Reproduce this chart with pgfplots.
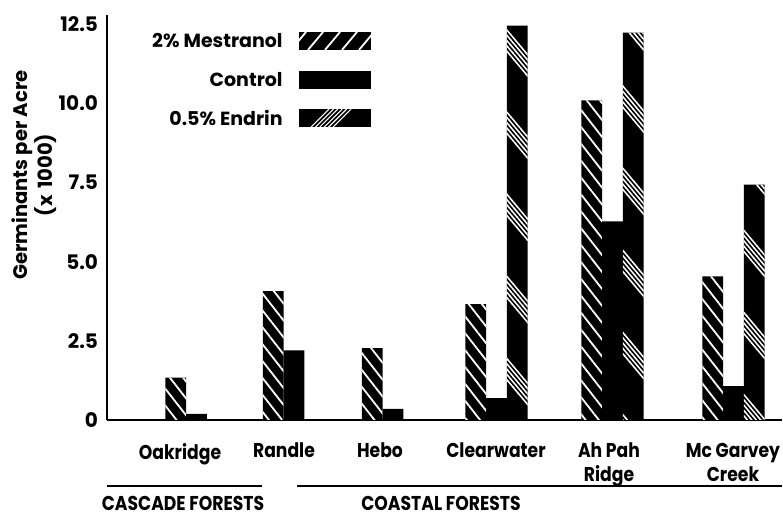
\documentclass[border=0pt]{standalone}
\usepackage{fontspec}
\setmainfont{Poppins}
\newfontfamily\cond{Poppins}[FakeStretch=0.86]
\usepackage{pgfplots}
\pgfplotsset{compat=1.18}
\usetikzlibrary{patterns.meta}

\tikzdeclarepattern{
  name=BandsR,
  bounding box={(-0.2pt,-0.5pt) and (4.2pt,7.4pt)},
  tile size={(4pt,26.4pt)},
  tile transformation={rotate=-50},
  code={
    \pgfsetlinewidth{0.75pt}
    \pgfpathmoveto{\pgfqpoint{-0.2pt}{0pt}}\pgfpathlineto{\pgfqpoint{4.2pt}{0pt}}
    \pgfpathmoveto{\pgfqpoint{-0.2pt}{1.7pt}}\pgfpathlineto{\pgfqpoint{4.2pt}{1.7pt}}
    \pgfpathmoveto{\pgfqpoint{-0.2pt}{3.4pt}}\pgfpathlineto{\pgfqpoint{4.2pt}{3.4pt}}
    \pgfpathmoveto{\pgfqpoint{-0.2pt}{5.1pt}}\pgfpathlineto{\pgfqpoint{4.2pt}{5.1pt}}
    \pgfpathmoveto{\pgfqpoint{-0.2pt}{6.8pt}}\pgfpathlineto{\pgfqpoint{4.2pt}{6.8pt}}
    \pgfusepath{stroke}
  }
}

\pgfplotstableread{
x     mes   con
196.5 1.34  0.19
294   4.07  2.20
393   2.27  0.35
496.5 3.66  0.69
612.5 10.10 6.28
733.5 4.54  1.07
}\mainTable
\pgfplotstableread{
x     end
496.5 12.46
612.5 12.24
733.5 7.44
}\endTable

\begin{document}
\begin{tikzpicture}
\begin{axis}[
  scale only axis,
  width=337.5pt, height=202.5pt,
  xmin=107, xmax=782,
  ymin=0, ymax=12.8,
  axis x line=bottom, axis y line=left,
  axis line style={-, line width=1.1pt},
  major tick length=0pt,
  ybar, bar width=20.7,
  clip=false,
  ytick={0,2.5,5,7.5,10,12.5},
  yticklabels={0,2.5,5.0,7.5,10.0,12.5},
  xtick={180,284,380,496,609,733},
  xticklabels={Oakridge,Randle,Hebo,Clearwater,{Ah Pah\\Ridge},{Mc Garvey\\Creek}},
  /pgf/number format/assume math mode=true,
  xticklabel style={anchor=north, yshift=-8pt, align=center, font=\cond\bfseries\fontsize{10}{12}\selectfont},
  yticklabel style={font=\bfseries\fontsize{10}{12}\selectfont, xshift=-1pt},
]
\addplot[draw=none, fill=black, bar shift=-20.7,
  postaction={pattern={Lines[angle=-52, distance=5.2pt, line width=0.9pt]}, pattern color=white}]
  table[x=x, y=mes] {\mainTable};
\addplot[draw=none, fill=black, bar shift=0]
  table[x=x, y=con] {\mainTable};
\addplot[draw=none, fill=black, bar shift=20.7,
  postaction={pattern=BandsR, pattern color=white}]
  table[x=x, y=end] {\endTable};

\coordinate (BL) at (axis cs:0,-3.0025);
\coordinate (TR) at (axis cs:783,13.274);
\coordinate (YL) at (axis cs:34,7.74);
\coordinate (T1) at (axis cs:283,11.98);
\coordinate (T2) at (axis cs:283,10.75);
\coordinate (T3) at (axis cs:283,9.54);
\coordinate (S1) at (axis cs:299,11.98);
\coordinate (S2) at (axis cs:299,10.75);
\coordinate (S3) at (axis cs:299,9.54);
\coordinate (CA1) at (axis cs:107,-2.086);
\coordinate (CA2) at (axis cs:262,-2.086);
\coordinate (CO1) at (axis cs:297,-2.086);
\coordinate (CO2) at (axis cs:782,-2.086);
\coordinate (CAT) at (axis cs:183,-2.64);
\coordinate (COT) at (axis cs:441,-2.64);
\end{axis}

\node[rotate=90, align=center, font=\bfseries\fontsize{9.8}{10}\selectfont] at (YL) {Germinants per Acre\\(x\,\,1000)};

\begin{scope}[font=\bfseries\fontsize{9.5}{12}\selectfont]
\node[anchor=east, inner sep=0pt] at (T1) {2\% Mestranol};
\node[anchor=east, inner sep=0pt] at (T2) {Control};
\node[anchor=east, inner sep=0pt] at (T3) {0.5\% Endrin};
\end{scope}
\begin{scope}[font=\cond\bfseries\fontsize{10}{12}\selectfont]
\node[inner sep=0pt] at (CAT) {CASCADE FORESTS};
\node[inner sep=0pt] at (COT) {COASTAL FORESTS};
\end{scope}

\draw[line width=1.2pt] (CA1) -- (CA2);
\draw[line width=1.2pt] (CO1) -- (CO2);

% legend swatches
\begin{scope}
\clip (S1) ++(0,-4.5pt) rectangle ++(36pt,9pt);
\fill[black] (S1) ++(0,-4.5pt) rectangle ++(36pt,9pt);
\foreach \xx in {-4,4.5,13,21.5,30}{
  \draw[white, line width=0.9pt] (S1) ++(\xx pt,-4.5pt) -- ++(7.55pt,9pt);
}
\end{scope}
\fill[black] (S2) ++(0,-4.5pt) rectangle ++(36pt,9pt);
\begin{scope}
\clip (S3) ++(0,-4.5pt) rectangle ++(36pt,9pt);
\fill[black] (S3) ++(0,-4.5pt) rectangle ++(36pt,9pt);
\foreach \xx in {6,8.2,10.4,12.6,14.8,17}{
  \draw[white, line width=0.55pt] (S3) ++(\xx pt,-4.5pt) -- ++(9pt,9pt);
}
\end{scope}

\pgfresetboundingbox
\useasboundingbox (BL) rectangle (TR);
\end{tikzpicture}
\end{document}
